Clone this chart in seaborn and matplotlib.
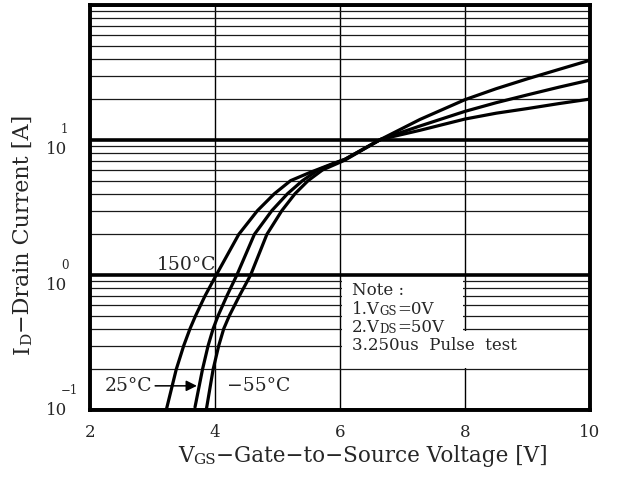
import matplotlib
matplotlib.use('Agg')
import matplotlib.pyplot as plt
import numpy as np
import pandas as pd
import seaborn as sns
from matplotlib.patches import Rectangle
from matplotlib.ticker import FixedLocator, LogLocator, NullFormatter

# Transfer characteristics (VGS in V, ID in A)
vgs_150 = [3.22, 3.38, 3.50, 3.60, 3.69, 3.84, 4.02, 4.38, 4.68, 4.95, 5.21, 5.52, 5.89, 6.08, 6.65, 7.28, 8.0, 8.5, 9.0, 9.5, 10.0]
id_150 = [0.1, 0.2, 0.3, 0.4, 0.5, 0.7, 1.0, 2.0, 3.0, 4.0, 5.0, 5.75, 6.7, 7.2, 10.1, 11.8, 14.3, 15.8, 17.1, 18.6, 20.1]

vgs_25 = [3.68, 3.80, 3.89, 3.97, 4.05, 4.19, 4.35, 4.63, 4.91, 5.16, 5.40, 5.65, 6.08, 6.65, 7.28, 8.0, 8.5, 9.0, 9.5, 10.0]
id_25 = [0.105, 0.2, 0.3, 0.4, 0.5, 0.7, 1.0, 2.0, 3.0, 4.0, 5.0, 6.0, 7.2, 10.1, 12.7, 16.3, 18.9, 21.6, 24.6, 27.8]

vgs_m55 = [3.86, 3.97, 4.06, 4.14, 4.23, 4.39, 4.57, 4.83, 5.07, 5.28, 5.49, 5.72, 6.08, 6.65, 7.28, 8.0, 8.5, 9.0, 9.5, 10.0]
id_m55 = [0.1, 0.2, 0.3, 0.4, 0.5, 0.7, 1.0, 2.0, 3.0, 4.0, 5.0, 6.0, 7.1, 10.1, 14.2, 19.9, 24.0, 28.4, 33.3, 39.0]

temps = ['150°C', '25°C', '−55°C']
x_ticks = [2, 4, 6, 8, 10]
y_decades = [0.1, 1, 10]
y_exponents = ['−1', '0', '1']
note_lines = [
    [('Note :', 12)],
    [('1.V', 12), ('GS', 8.5), ('=0V', 12)],
    [('2.V', 12), ('DS', 8.5), ('=50V', 12)],
    [('3.250us  Pulse  test', 12)],
]

df = pd.concat([
    pd.DataFrame({'vgs': vgs_150, 'id': id_150, 'temp': temps[0]}),
    pd.DataFrame({'vgs': vgs_25, 'id': id_25, 'temp': temps[1]}),
    pd.DataFrame({'vgs': vgs_m55, 'id': id_m55, 'temp': temps[2]}),
], ignore_index=True)

sns.set_style('white')
plt.rcParams['font.family'] = ['DejaVu Serif']

fig = plt.figure(figsize=(6.18, 4.90), dpi=100)
ax = fig.add_axes([90 / 618, 1 - 410 / 490, 500 / 618, 405 / 490])

sns.lineplot(data=df, x='vgs', y='id', hue='temp', palette=['k', 'k', 'k'],
             estimator=None, sort=False, lw=2.3, legend=False, ax=ax, zorder=3)

ax.set_yscale('log')
ax.set_xlim(2, 10)
ax.set_ylim(0.1, 100)
ax.set_xlabel('')
ax.set_ylabel('')

# datasheet style grid: heavy decades, thin minor lines
ax.set_axisbelow(True)
ax.xaxis.set_major_locator(FixedLocator(x_ticks))
ax.yaxis.set_major_locator(FixedLocator(y_decades + [100]))
ax.yaxis.set_major_formatter(NullFormatter())
ax.yaxis.set_minor_locator(LogLocator(base=10, subs=np.arange(2, 10)))
ax.yaxis.set_minor_formatter(NullFormatter())
ax.grid(axis='x', which='major', color='k', lw=1.0)
ax.grid(axis='y', which='major', color='k', lw=2.6)
ax.grid(axis='y', which='minor', color='#1a1a1a', lw=0.9)
ax.tick_params(axis='both', which='both', length=0)
ax.tick_params(axis='x', labelsize=12, pad=10)
for s in ax.spines.values():
    s.set_linewidth(2.8)
    s.set_color('k')

# blank area behind the note
ax.add_patch(Rectangle((6.03, 0.205), 7.97 - 6.03, 0.965 - 0.205,
                       facecolor='white', edgecolor='none', zorder=1))
ax.add_patch(Rectangle((6.03, 0.205), 10 - 6.03, 0.385 - 0.205,
                       facecolor='white', edgecolor='none', zorder=1))

# y tick labels written as 10 with a raised exponent
for val, exp, dy in zip(y_decades, y_exponents, [0, -10, -9]):
    ax.annotate('10', xy=(0, val), xycoords=('axes fraction', 'data'),
                xytext=(-23, dy), textcoords='offset pixels',
                ha='right', va='center', fontsize=12)
    ax.annotate(exp, xy=(0, val), xycoords=('axes fraction', 'data'),
                xytext=(-29, dy + 20), textcoords='offset pixels',
                ha='left', va='center', fontsize=8.5)


def chain(pieces, xy, coords, rotation=0):
    prev = None
    for txt, size in pieces:
        if prev is None:
            if rotation:
                prev = ax.annotate(txt, xy=xy, xycoords=coords, rotation=90,
                                   ha='right', va='bottom', fontsize=size, zorder=4)
            else:
                prev = ax.annotate(txt, xy=xy, xycoords=coords,
                                   ha='left', va='bottom', fontsize=size, zorder=4)
        else:
            if rotation:
                prev = ax.annotate(txt, xy=(1, 1), xycoords=prev, rotation=90,
                                   ha='right', va='bottom', fontsize=size, zorder=4)
            else:
                prev = ax.annotate(txt, xy=(1, 0), xycoords=prev,
                                   ha='left', va='bottom', fontsize=size, zorder=4)
    return prev


chain([('V', 15.5), ('GS', 11), ('−Gate−to−Source Voltage [V]', 15.5)],
      (178 / 618, 1 - 467 / 490), 'figure fraction')
chain([('I', 16), ('D', 11), ('−Drain Current [A]', 16)],
      (34 / 618, 1 - 354 / 490), 'figure fraction', rotation=90)

for line, yv in zip(note_lines, [0.66, 0.48, 0.353, 0.258]):
    chain(line, (6.19, yv), 'data')

# curve labels
ax.text(4.02, 1.09, '150°C', ha='right', va='baseline', fontsize=13.5, zorder=4)
ax.annotate('25°C', xy=(3.71, 0.151), xytext=(2.99, 0.151),
            ha='right', va='center', fontsize=13.5,
            arrowprops=dict(arrowstyle='-|>', color='k', lw=1.1,
                            shrinkA=0, shrinkB=0, mutation_scale=16,
                            relpos=(1, 0.5)))
ax.text(4.19, 0.151, '−55°C', ha='left', va='center', fontsize=13.5, zorder=4)

fig.savefig('out.png', dpi=100)
